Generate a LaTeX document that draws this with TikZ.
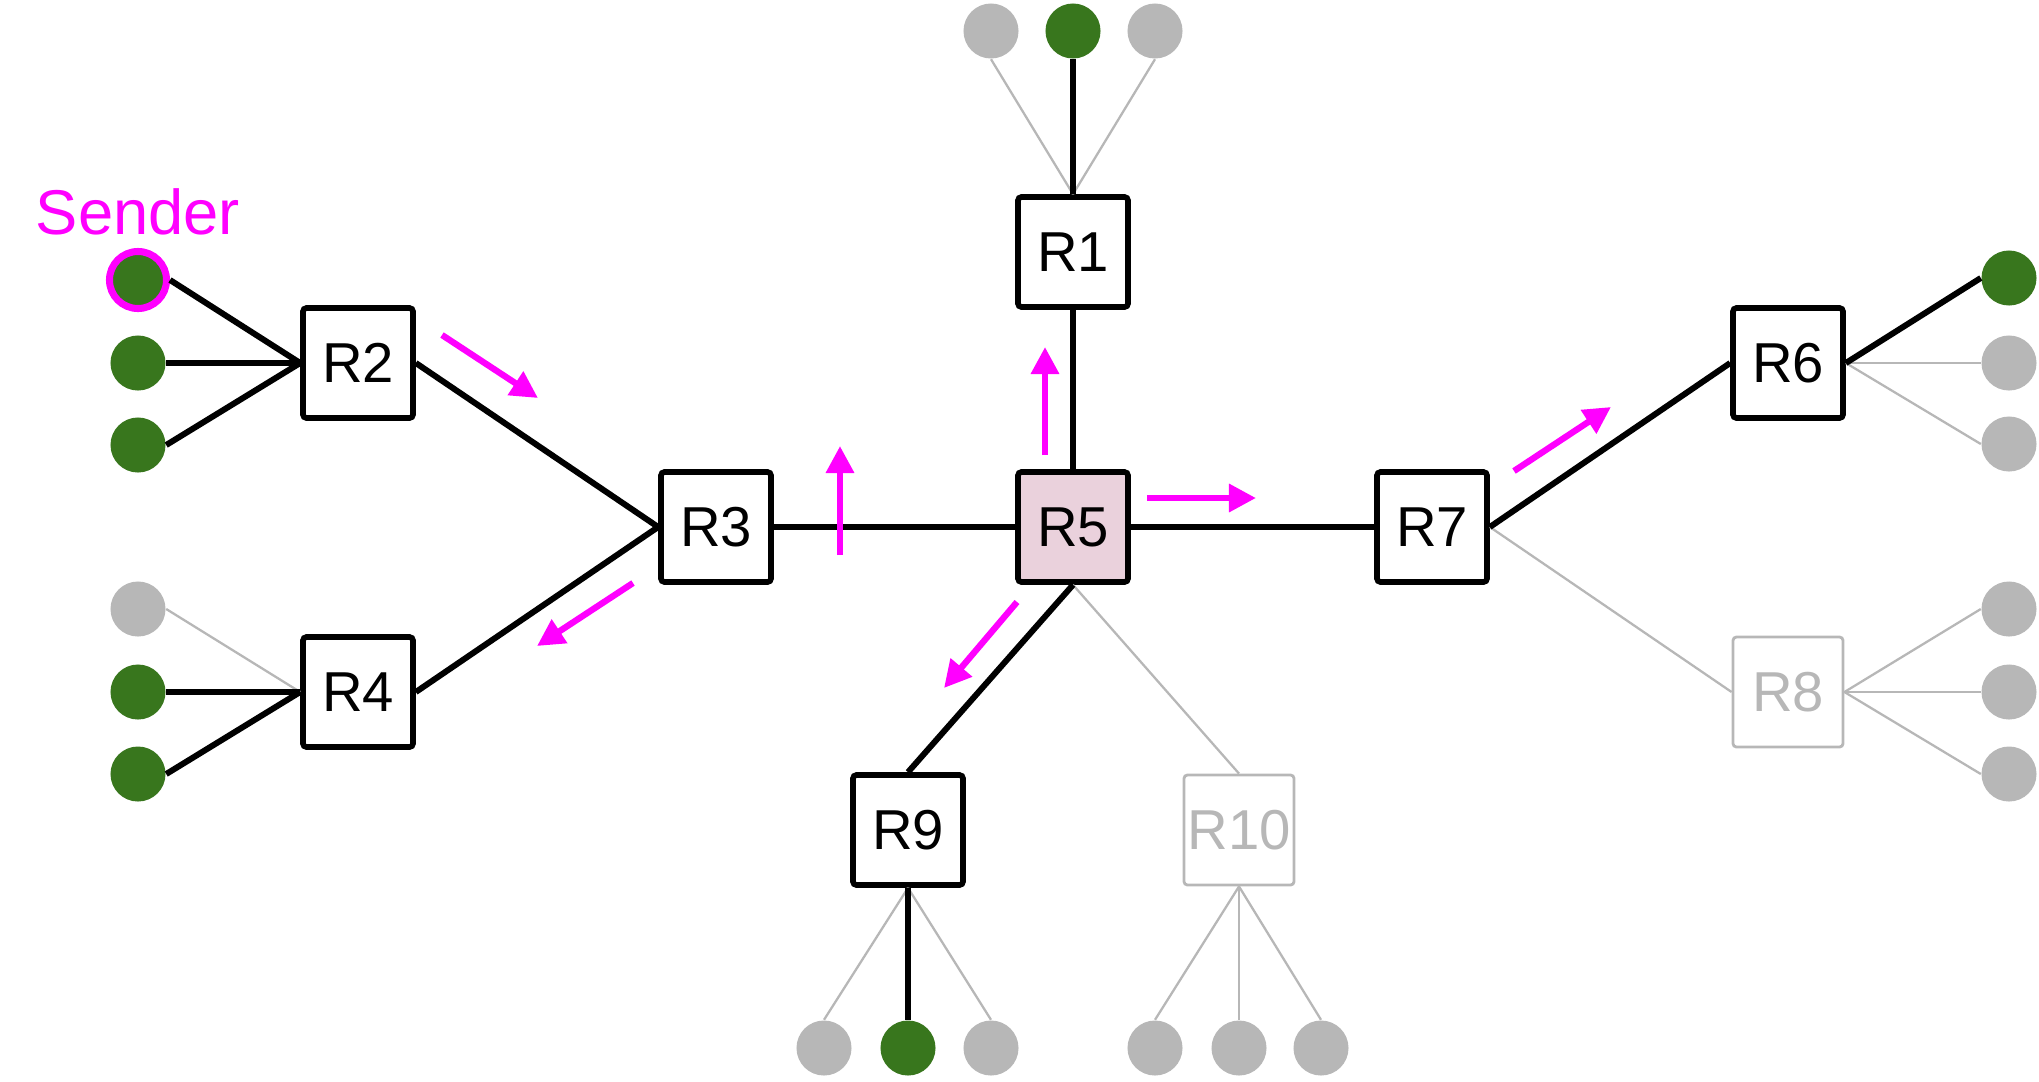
\documentclass[tikz,border=0pt]{standalone}
\usepackage{fontspec}
\setmainfont{Liberation Sans}
\usepackage{tikz}
\usetikzlibrary{arrows.meta}
\definecolor{hostgreen}{HTML}{38761D}
\definecolor{offgrey}{HTML}{B7B7B7}
\definecolor{flowpink}{HTML}{FF00FF}
\definecolor{rootfill}{HTML}{EAD1DC}

\begin{document}
\begin{tikzpicture}[
        x=0.01cm, y=-0.01cm,
        router/.style={rectangle, draw, line width=1.6pt, rounded corners=1pt,
          minimum size=1.1cm, inner sep=0pt, font=\fontsize{16}{18}\selectfont},
        offrouter/.style={router, draw=offgrey, text=offgrey, line width=0.8pt},
        host/.style={circle, fill=hostgreen, minimum size=0.55cm, inner sep=0pt},
        offhost/.style={host, fill=offgrey},
        link/.style={line width=1.7pt},
        offlink/.style={offgrey, line width=0.65pt},
        flow/.style={flowpink, line width=1.8pt, -{Triangle[length=0.27cm,width=0.27cm]}}
      ]
        \useasboundingbox (0,0) rectangle (2039,1081);

        % routers
        \node[router] (R1) at (1073,252) {R1};
        \node[router] (R2) at (358,363) {R2};
        \node[router] (R3) at (716,527) {R3};
        \node[router] (R4) at (358,692) {R4};
        \node[router, fill=rootfill] (R5) at (1073,527) {R5};
        \node[router] (R6) at (1788,363) {R6};
        \node[router] (R7) at (1432,527) {R7};
        \node[offrouter] (R8) at (1788,692) {R8};
        \node[router] (R9) at (908,830) {R9};
        \node[offrouter] (R10) at (1239,830) {R10};

        % hosts
        \node[host, draw=flowpink, line width=2pt, minimum size=0.57cm] (h2a) at (138,280) {};
        \node[host] (h2b) at (138,363) {};
        \node[host] (h2c) at (138,445) {};
        \node[text=flowpink, font=\fontsize{18}{20}\selectfont] (sender) at (138,212) {Sender};
        \node[offhost] (h4a) at (138,609) {};
        \node[host] (h4b) at (138,692) {};
        \node[host] (h4c) at (138,774) {};
        \node[offhost] (h1a) at (991,31) {};
        \node[host] (h1b) at (1073,31) {};
        \node[offhost] (h1c) at (1155,31) {};
        \node[host] (h6a) at (2009,278) {};
        \node[offhost] (h6b) at (2009,363) {};
        \node[offhost] (h6c) at (2009,444) {};
        \node[offhost] (h8a) at (2009,609) {};
        \node[offhost] (h8b) at (2009,692) {};
        \node[offhost] (h8c) at (2009,774) {};
        \node[offhost] (h9a) at (824,1048) {};
        \node[host] (h9b) at (908,1048) {};
        \node[offhost] (h9c) at (991,1048) {};
        \node[offhost] (h10a) at (1155,1048) {};
        \node[offhost] (h10b) at (1239,1048) {};
        \node[offhost] (h10c) at (1321,1048) {};

        % unused links
        \draw[offlink] (h4a.east) -- (R4.west);
        \draw[offlink] (h1a.south) -- (R1.north);
        \draw[offlink] (h1c.south) -- (R1.north);
        \draw[offlink] (h6b.west) -- (R6.east);
        \draw[offlink] (h6c.west) -- (R6.east);
        \foreach \h in {h8a,h8b,h8c}
          \draw[offlink] (\h.west) -- (R8.east);
        \draw[offlink] (h9a.north) -- (R9.south);
        \draw[offlink] (h9c.north) -- (R9.south);
        \foreach \h in {h10a,h10b,h10c}
          \draw[offlink] (\h.north) -- (R10.south);
        \draw[offlink] (R7.east) -- (R8.west);
        \draw[offlink] (R5.south) -- (R10.north);

        % tree links
        \foreach \h in {h2a,h2b,h2c}
          \draw[link] (\h.east) -- (R2.west);
        \draw[link] (h4b.east) -- (R4.west);
        \draw[link] (h4c.east) -- (R4.west);
        \draw[link] (R2.east) -- (R3.west);
        \draw[link] (R4.east) -- (R3.west);
        \draw[link] (R3) -- (R5);
        \draw[link] (R5) -- (R1);
        \draw[link] (h1b.south) -- (R1.north);
        \draw[link] (R5) -- (R7);
        \draw[link] (R7.east) -- (R6.west);
        \draw[link] (h6a.west) -- (R6.east);
        \draw[link] (R5.south) -- (R9.north);
        \draw[link] (h9b.north) -- (R9.south);

        % packet flow
        \foreach \a/\b [count=\i] in {{442,335}/{538,398}, {633,583}/{537,646},
            {840,555}/{840,446}, {1045,455}/{1045,347}, {1147,498}/{1256,498},
            {1017,602}/{944,688}, {1514,471}/{1611,407}} {
          \coordinate (f\i a) at (\a);
          \coordinate (f\i b) at (\b);
          \draw[flow] (f\i a) -- (f\i b);
        }
      \end{tikzpicture}
\end{document}
